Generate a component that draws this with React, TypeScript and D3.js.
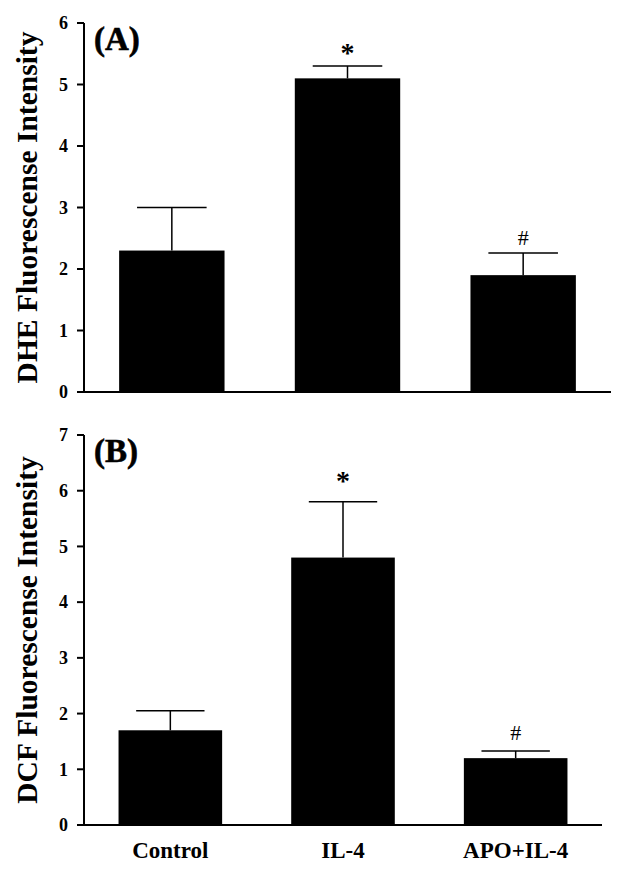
import React from "react";
import * as d3 from "d3";

const categories = ["Control", "IL-4", "APO+IL-4"];
const dheMeans = [2.3, 5.1, 1.9];
const dheErrors = [0.7, 0.2, 0.36];
const dheMarks = ["", "*", "#"];
const dcfMeans = [1.7, 4.8, 1.2];
const dcfErrors = [0.35, 1.0, 0.13];
const dcfMarks = ["", "*", "#"];
const dheTicks = [0, 1, 2, 3, 4, 5, 6];
const dcfTicks = [0, 1, 2, 3, 4, 5, 6, 7];

const FONT = "'Liberation Serif', 'Times New Roman', serif";

type PanelProps = {
  label: string;
  title: string;
  means: number[];
  errors: number[];
  marks: string[];
  ticks: number[];
  top: number;
  bottom: number;
  right: number;
  showX: boolean;
  starGap: number;
  hashGap: number;
};

function Panel({ label, title, means, errors, marks, ticks, top, bottom, right, showX, starGap, hashGap }: PanelProps) {
  const left = 84;
  const y = d3.scaleLinear().domain([0, ticks[ticks.length - 1]]).range([bottom, top]);
  const x = d3.scaleBand<string>().domain(categories).range([left, right]).paddingInner(0.4).paddingOuter(0.2);
  const bw = x.bandwidth();
  const capW = bw * 0.66;
  return (
    <g>
      {categories.map((c, i) => {
        const cx = (x(c) as number) + bw / 2;
        const yt = y(means[i]);
        const ye = y(means[i] + errors[i]);
        return (
          <g key={c}>
            <rect x={x(c)} y={yt} width={bw} height={bottom - yt} fill="#000" />
            <line x1={cx} x2={cx} y1={yt} y2={ye} stroke="#000" strokeWidth={1.5} />
            <line x1={cx - capW / 2} x2={cx + capW / 2} y1={ye} y2={ye} stroke="#000" strokeWidth={1.5} />
            {marks[i] === "*" && (
              <text x={cx} y={ye - starGap + 13} textAnchor="middle" fontFamily={FONT} fontWeight="bold" fontSize={28}>*</text>
            )}
            {marks[i] === "#" && (
              <text x={cx} y={ye - hashGap + 7.5} textAnchor="middle" fontFamily={FONT} fontSize={22}>#</text>
            )}
          </g>
        );
      })}
      <line x1={left} x2={left} y1={top} y2={bottom + 1} stroke="#000" strokeWidth={2} />
      <line x1={left - 6} x2={right} y1={bottom} y2={bottom} stroke="#000" strokeWidth={2} />
      {ticks.map((t) => (
        <g key={t}>
          <line x1={left - 7} x2={left} y1={y(t)} y2={y(t)} stroke="#000" strokeWidth={2} />
          <text x={left - 16} y={y(t)} dy="0.35em" textAnchor="end" fontFamily={FONT} fontWeight="bold" fontSize={18}>{t}</text>
        </g>
      ))}
      <text x={94} y={top + 27} fontFamily={FONT} fontWeight="bold" fontSize={33} stroke="#000" strokeWidth={0.6}>{label}</text>
      <text transform={`translate(37,${(top + bottom) / 2}) rotate(-90)`} textAnchor="middle" fontFamily={FONT} fontWeight="bold" fontSize={29.5}>{title}</text>
      {showX && categories.map((c) => (
        <text key={c} x={(x(c) as number) + bw / 2} y={bottom + 33} textAnchor="middle" fontFamily={FONT} fontWeight="bold" fontSize={23}>{c}</text>
      ))}
    </g>
  );
}

export default function App() {
  return (
    <svg width={624} height={874} style={{ position: "absolute", left: 0, top: 0, background: "#fff" }}>
      <rect width={624} height={874} fill="#fff" />
      <Panel label="(A)" title="DHE Fluorescense Intensity" means={dheMeans} errors={dheErrors} marks={dheMarks} ticks={dheTicks} top={23} bottom={392} right={611} showX={false} starGap={17} hashGap={15.5} />
      <Panel label="(B)" title="DCF Fluorescense Intensity" means={dcfMeans} errors={dcfErrors} marks={dcfMarks} ticks={dcfTicks} top={435} bottom={825} right={602} showX={true} starGap={24.5} hashGap={18} />
    </svg>
  );
}
